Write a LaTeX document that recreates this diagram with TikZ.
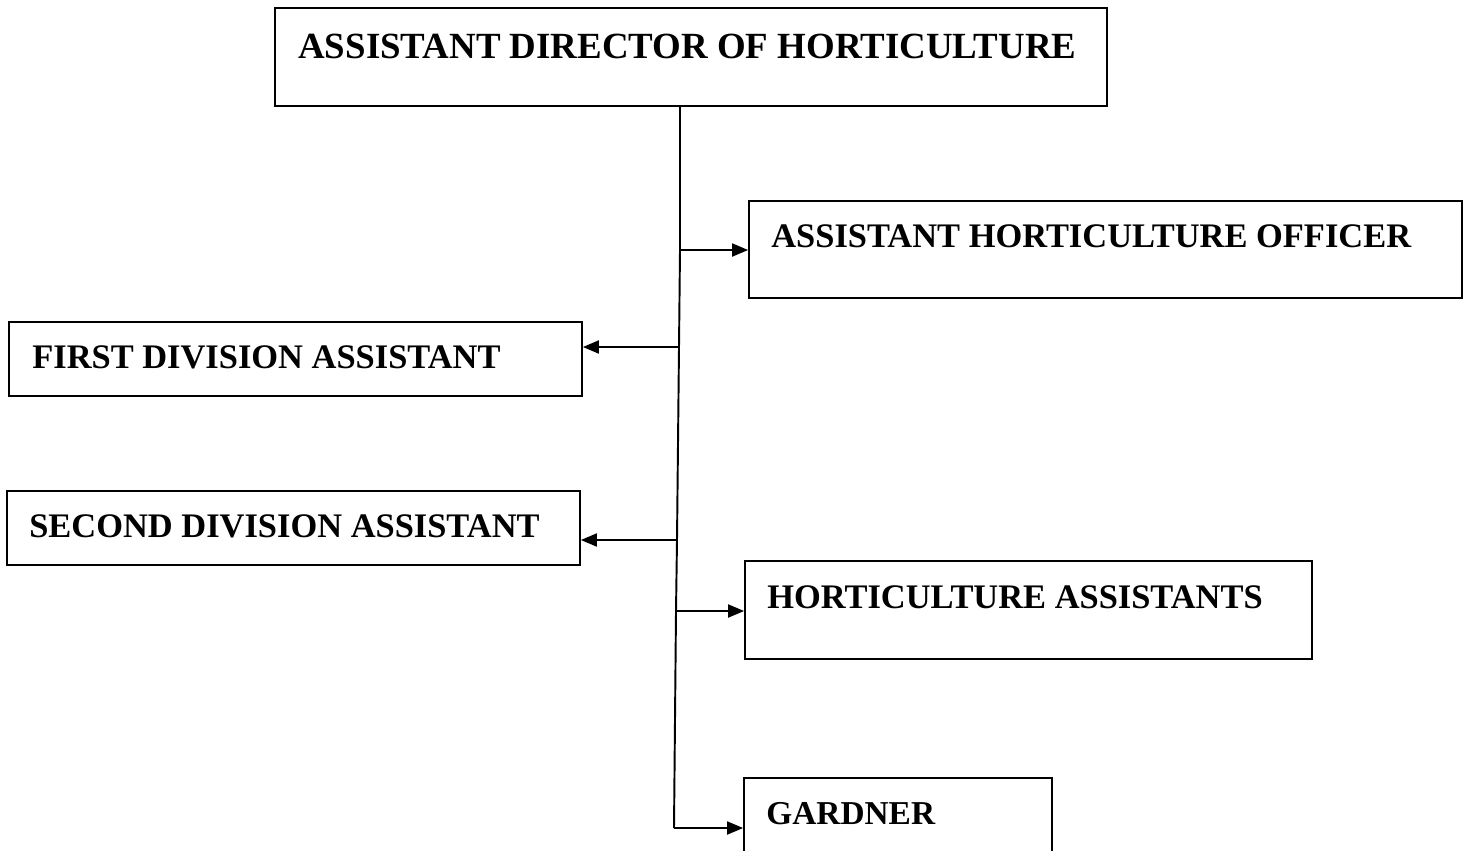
\documentclass[tikz,border=0pt]{standalone}
\usepackage{fontspec}
\setmainfont{Liberation Serif}
\usetikzlibrary{calc}
\usetikzlibrary{arrows}

\tikzset{
  post/.style={draw, line width=1.1pt, rectangle, inner sep=0pt},
  lbl/.style={anchor=base west, inner sep=0pt, font=\fontsize{19.6}{20}\selectfont\bfseries},
  link/.style={line width=1.1pt, ->, >=triangle 45}
}

\begin{document}
\begin{tikzpicture}[x=0.02cm, y=-0.02cm]
\useasboundingbox (0,0) rectangle (1467,850);
\begin{scope}
\clip (0,0) rectangle (1467,850);
% boxes
\node[post, minimum width=832*0.02cm, minimum height=98*0.02cm] (adh) at (691,57) {};
\node[post, minimum width=713*0.02cm, minimum height=97*0.02cm] (aho) at (1105.5,249.5) {};
\node[post, minimum width=573*0.02cm, minimum height=74*0.02cm] (fda) at (295.5,359) {};
\node[post, minimum width=573*0.02cm, minimum height=74*0.02cm] (sda) at (293.5,528) {};
\node[post, minimum width=567*0.02cm, minimum height=98*0.02cm] (has) at (1028.5,610) {};
\node[post, minimum width=308*0.02cm, minimum height=140*0.02cm] (gar) at (898,848) {};
\end{scope}
% texts
\node[lbl, font=\fontsize{21}{21}\selectfont\bfseries] (tadh) at (298,58) {ASSISTANT DIRECTOR OF HORTICULTURE};
\node[lbl] (taho) at (771,247) {ASSISTANT HORTICULTURE OFFICER};
\node[lbl] (tfda) at (32,368) {FIRST DIVISION ASSISTANT};
\node[lbl] (tsda) at (29,537) {SECOND DIVISION ASSISTANT};
\node[lbl] (thas) at (767,608) {HORTICULTURE ASSISTANTS};
\node[lbl, font=\fontsize{19}{20}\selectfont\bfseries] (tgar) at (766,824) {GARDNER};
% trunk
\coordinate (j1) at (680,250);
\coordinate (j2) at (679,347);
\coordinate (j3) at (677,540);
\coordinate (j4) at (676,611);
\coordinate (j5) at (674,828);
\draw[line width=1.1pt] (adh.south -| j1) -- (j1) -- (j2) -- (j3) -- (j4) -- (j5);
\draw[link] (j1) -- (aho.west |- j1);
\draw[link] (j2) -- (fda.east |- j2);
\draw[link] (j3) -- (sda.east |- j3);
\draw[link] (j4) -- (has.west |- j4);
\draw[link] (j5) -- (gar.west |- j5);
\end{tikzpicture}
\end{document}
